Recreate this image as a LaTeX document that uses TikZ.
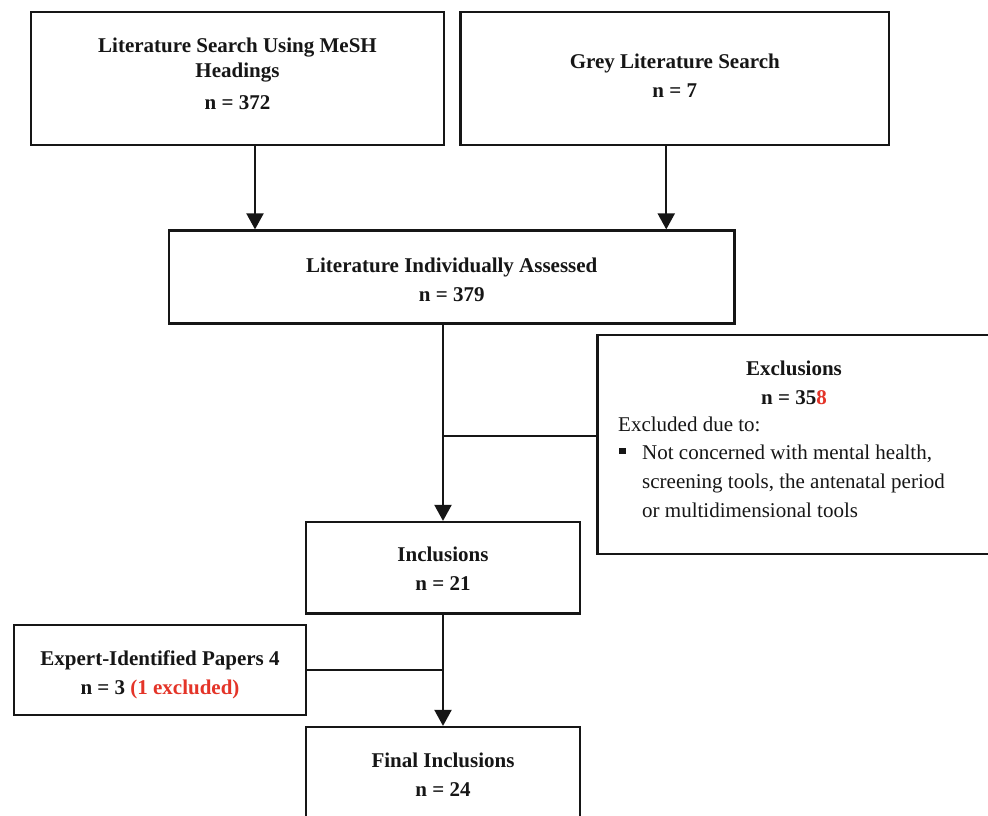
\documentclass[tikz,border=0pt]{standalone}
\usepackage{fontspec}
\setmainfont{Liberation Serif}
\usetikzlibrary{arrows.meta}
\definecolor{exred}{RGB}{228,52,40}
\definecolor{ink}{RGB}{22,22,22}
\begin{document}
\begin{tikzpicture}[x=1pt,y=-1pt,
  box/.style={draw=ink, line width=2.2pt, rectangle, inner sep=0pt},
  txt/.style={font=\fontsize{21}{29}\selectfont\bfseries, align=center, text=ink, inner sep=0pt},
  plain/.style={font=\fontsize{21}{29}\selectfont, text=ink, inner sep=0pt, anchor=base west},
  conn/.style={draw=ink, line width=2pt},
  arr/.style={conn, -{Triangle[width=17pt,length=16pt]}}]
\useasboundingbox (0,0) rectangle (988,816);
\clip (0,0) rectangle (988,816);
\fill[white] (0,0) rectangle (988,816);

% boxes
\node[box, minimum width=413pt, minimum height=133pt] (mesh) at (237.5,78.5) {};
\node[box, minimum width=428.5pt, minimum height=133pt] (grey) at (674.75,78.5) {};
\node[box, minimum width=565.5pt, minimum height=93pt] (assess) at (451.75,277) {};
\node[box, minimum width=393.5pt, minimum height=219pt] (excl) at (794.25,444.5) {};
\node[box, minimum width=274pt, minimum height=91.5pt] (incl) at (443,567.75) {};
\node[box, minimum width=292pt, minimum height=90pt] (expert) at (160,670) {};
\node[box, minimum width=274pt, minimum height=91pt] (final) at (443,772.5) {};

% texts
\node[txt] (meshT) at ([yshift=5pt]mesh.center) {Literature Search Using MeSH\\[-4pt]Headings\\[3pt]n = 372};
\node[txt] (greyT) at ([yshift=3pt]grey.center) {Grey Literature Search\\n = 7};
\node[txt] (assessT) at ([yshift=-2.5pt]assess.center) {Literature Individually Assessed\\n = 379};
\node[txt] (exH) at (794,382.5) {Exclusions\\n = 35\textcolor{exred}{8}};
\node[plain] (exA) at (618,431) {Excluded due to:};
\node[fill=ink, minimum size=6.5pt, inner sep=0pt] (bul) at (622.3,451.2) {};
\node[plain] (exB1) at (642,459.5) {Not concerned with mental health,};
\node[plain] (exB2) at (642,488.5) {screening tools, the antenatal period};
\node[plain] (exB3) at (642,517) {or multidimensional tools};
\node[txt] (inclT) at ([yshift=-1.25pt]incl.center) {Inclusions\\n = 21};
\node[txt] (expertT) at ([yshift=-5pt]expert.center) {Expert-Identified Papers 4\\n = 3 \textcolor{exred}{(1 excluded)}};
\node[txt] (finalT) at ([yshift=-2pt]final.center) {Final Inclusions\\n = 24};

% connectors
\draw[arr] ([xshift=17.5pt]mesh.south) -- ([xshift=17.5pt]mesh.south |- assess.north);
\draw[arr] ([xshift=-8.5pt]grey.south) -- ([xshift=-8.5pt]grey.south |- assess.north);
\draw[arr] (incl.north |- assess.south) -- (incl.north);
\draw[conn] ([yshift=8.5pt]excl.west) -- ([yshift=8.5pt]excl.west -| incl.north);
\draw[arr] (incl.south) -- (final.north);
\draw[conn] (expert.east) -- (expert.east -| incl.south);
\end{tikzpicture}
\end{document}
